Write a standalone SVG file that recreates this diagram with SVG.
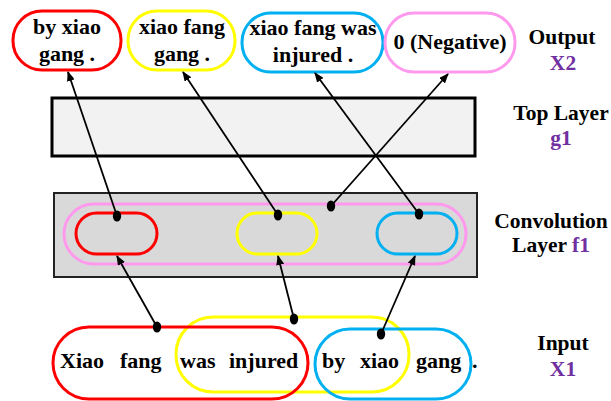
<svg xmlns="http://www.w3.org/2000/svg" width="611" height="401" viewBox="0 0 611 401">
  <style>
    .t { font-family: "Liberation Serif", "Times New Roman", serif; font-weight: bold; font-size: 22px; fill: #000; }
    .l { font-size: 21.5px; }
    .c { text-anchor: middle; }
    .p { fill: #7030a0; }
    .cap { fill: none; stroke-width: 3; }
    .red { stroke: #ff0000; }
    .yel { stroke: #ffff00; }
    .blu { stroke: #00b0f0; }
    .pnk { stroke: #ff99ee; }
    .edge { stroke: #000; stroke-width: 1.8; fill: none; marker-end: url(#arr); }
    .dot { fill: #000; }
  </style>
  <defs>
    <marker id="arr" markerWidth="10" markerHeight="8" refX="9" refY="4" orient="auto" markerUnits="userSpaceOnUse">
      <path d="M0,0 L10,4 L0,8 z" fill="#000"/>
    </marker>
  </defs>

  <rect width="611" height="401" fill="#fff"/>

  <!-- layer bands -->
  <g id="top-layer">
    <rect x="52" y="98" width="423" height="58" fill="#f2f2f2" stroke="#000" stroke-width="3"/>
  </g>
  <g id="conv-layer">
    <rect x="54" y="193" width="423" height="84" fill="#d9d9d9" stroke="#222" stroke-width="2"/>
    <rect class="cap pnk" x="64" y="204" width="402" height="60" rx="30"/>
  </g>

  <!-- output nodes -->
  <g id="out-red">
    <rect class="cap red" x="13" y="11" width="108" height="59" rx="29"/>
    <text class="t c" x="67" y="34">by xiao</text>
    <text class="t c" x="67" y="61">gang .</text>
  </g>
  <g id="out-yellow">
    <rect class="cap yel" x="128" y="11" width="107" height="59" rx="29"/>
    <text class="t c" x="182" y="34">xiao fang</text>
    <text class="t c" x="182" y="61">gang .</text>
  </g>
  <g id="out-blue">
    <rect class="cap blu" x="242" y="13" width="141" height="59" rx="29"/>
    <text class="t c" x="313" y="35">xiao fang was</text>
    <text class="t c" x="313" y="62">injured .</text>
  </g>
  <g id="out-pink">
    <rect class="cap pnk" x="385" y="13" width="130" height="59" rx="29"/>
    <text class="t c" x="450" y="49">0 (Negative)</text>
  </g>

  <!-- convolution windows -->
  <g id="conv-red">
    <rect class="cap red" x="76" y="213" width="81" height="41" rx="20.5"/>
  </g>
  <g id="conv-yellow">
    <rect class="cap yel" x="237" y="213" width="80" height="41" rx="20.5"/>
  </g>
  <g id="conv-blue">
    <rect class="cap blu" x="377" y="213" width="80" height="41" rx="20.5"/>
  </g>

  <!-- input sentence and its windows -->
  <g id="input">
    <rect class="cap yel" x="176" y="317" width="233" height="75" rx="37"/>
    <rect class="cap blu" x="315" y="329" width="156" height="70" rx="35"/>
    <rect class="cap red" x="53" y="327" width="255" height="72" rx="36"/>
    <text class="t" x="60" y="368">Xiao</text>
    <text class="t" x="120" y="368">fang</text>
    <text class="t" x="180" y="368">was</text>
    <text class="t" x="229" y="368">injured</text>
    <text class="t" x="322" y="368">by</text>
    <text class="t" x="360" y="368">xiao</text>
    <text class="t" x="416" y="368">gang</text>
    <text class="t" x="472" y="368">.</text>
  </g>

  <!-- side labels -->
  <g id="labels">
    <text class="t l c" x="562" y="44">Output</text>
    <text class="t l c p" x="563" y="70">X2</text>
    <text class="t l c" x="561" y="120">Top Layer</text>
    <text class="t l c p" x="561" y="145">g1</text>
    <text class="t l c" x="551" y="228">Convolution</text>
    <text class="t l c" x="551" y="252">Layer <tspan class="p">f1</tspan></text>
    <text class="t l c" x="563" y="350">Input</text>
    <text class="t l c p" x="563" y="376">X1</text>
  </g>

  <!-- connectors -->
  <g id="connectors">
    <line class="edge" x1="117" y1="216" x2="68" y2="72"/>
    <line class="edge" x1="278" y1="215" x2="183" y2="72"/>
    <line class="edge" x1="419" y1="214" x2="315" y2="73"/>
    <line class="edge" x1="331" y1="206" x2="448" y2="74"/>
    <line class="edge" x1="157" y1="327" x2="117" y2="256"/>
    <line class="edge" x1="294" y1="319" x2="278" y2="256"/>
    <line class="edge" x1="381" y1="334" x2="415" y2="256"/>
    <ellipse class="dot" cx="117" cy="216" rx="4.2" ry="5.5"/>
    <ellipse class="dot" cx="278" cy="215" rx="4.2" ry="5.5"/>
    <ellipse class="dot" cx="419" cy="214" rx="4.2" ry="5.5"/>
    <ellipse class="dot" cx="331" cy="206" rx="4.2" ry="5.5"/>
    <ellipse class="dot" cx="157" cy="327" rx="4.2" ry="5.5"/>
    <ellipse class="dot" cx="294" cy="319" rx="4.2" ry="5.5"/>
    <ellipse class="dot" cx="381" cy="334" rx="4.2" ry="5.5"/>
  </g>
</svg>
